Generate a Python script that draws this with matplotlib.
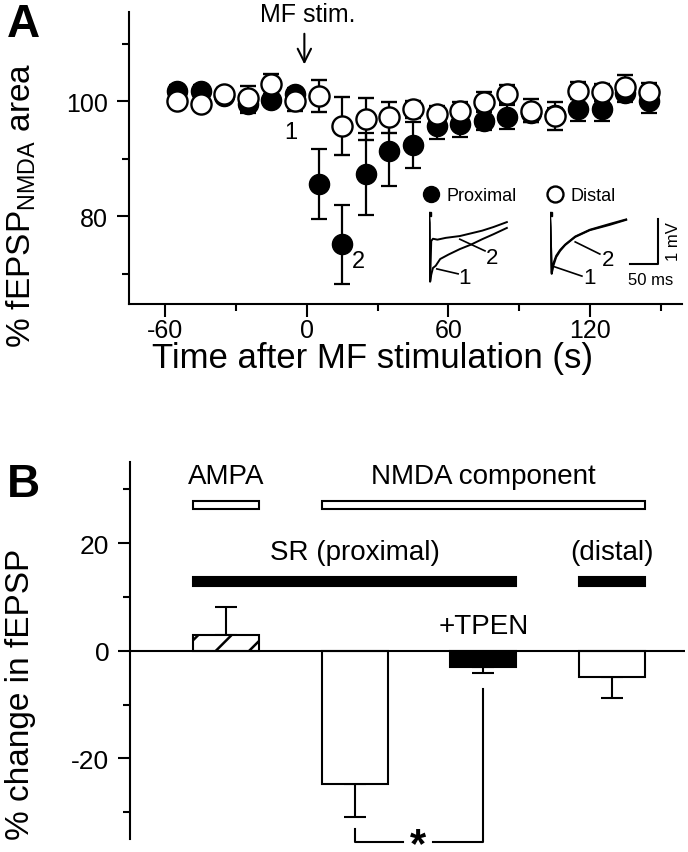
import numpy as np
import matplotlib
matplotlib.use('Agg')
import matplotlib.pyplot as plt
from matplotlib.lines import Line2D

plt.rcParams['font.family'] = ['Liberation Sans', 'DejaVu Sans']
plt.rcParams['mathtext.fontset'] = 'custom'
plt.rcParams['mathtext.rm'] = 'Liberation Sans'
plt.rcParams['mathtext.it'] = 'Liberation Sans:italic'
plt.rcParams['axes.unicode_minus'] = False
plt.rcParams['hatch.linewidth'] = 1.8

# ---- Panel A: time course (s) vs % fEPSP NMDA area ----
time_s = [-55, -45, -35, -25, -15, -5, 5, 15, 25, 35, 45, 55, 65, 75, 85, 95, 105, 115, 125, 135, 145]
proximal = [101.8, 101.8, 100.8, 99.5, 100.2, 101.3, 85.6, 75.1, 87.3, 91.4, 92.3, 95.7, 96.0, 96.6,
            97.2, 97.9, 97.6, 98.6, 98.7, 101.4, 100.0]
proximal_err = [1.0, 1.0, 1.0, 1.5, 1.0, 1.0, 6.1, 6.9, 7.1, 6.1, 4.0, 2.3, 2.3, 1.6, 2.1, 1.5, 1.2,
                2.0, 2.1, 1.5, 2.0]
distal = [100.1, 99.5, 101.2, 100.5, 103.0, 100.1, 100.9, 95.7, 96.9, 97.2, 98.6, 97.7, 98.3, 99.8,
          101.2, 98.3, 97.4, 101.8, 101.5, 102.4, 101.5]
distal_err = [1.0, 1.0, 1.0, 2.2, 1.7, 1.8, 2.8, 5.0, 3.7, 2.7, 1.5, 1.5, 1.5, 1.7, 1.6, 2.0, 2.4,
              1.5, 1.5, 2.1, 1.7]

# example traces (ms, mV)
prox_t1 = [0, 1, 2, 4, 7, 12, 20, 35, 55, 75, 95, 115, 139]
prox_v1 = [0, -0.2, -1.5, -1.35, -1.2, -1.15, -1.0, -0.9, -0.78, -0.68, -0.56, -0.45, -0.31]
prox_t2 = [0, 1, 2, 4, 7, 15, 30, 55, 75, 95, 115, 139]
prox_v2 = [0, -0.2, -1.5, -0.6, -0.55, -0.57, -0.53, -0.49, -0.43, -0.37, -0.29, -0.18]
dist_t = [0, 1, 3, 6, 11, 18, 27, 45, 71, 107, 136]
dist_v1 = [0, -0.3, -1.33, -1.15, -0.96, -0.82, -0.69, -0.51, -0.36, -0.24, -0.13]
dist_v2 = [0, -0.3, -1.3, -1.1, -0.93, -0.8, -0.68, -0.5, -0.35, -0.22, -0.12]

# ---- Panel B: % change in fEPSP ----
b_groups = ['AMPA', 'NMDA proximal', 'NMDA proximal +TPEN', 'NMDA distal']
b_change = [3.0, -24.8, -3.0, -4.8]
b_err = [5.2, 6.2, 1.1, 4.0]
b_face = ['white', 'white', 'black', 'white']
b_hatch = ['/', '', '', '']

fig = plt.figure(figsize=(6.88, 8.53), dpi=100)
W, H = 688, 853

def rect(x0, y0, x1, y1):
    return [x0 / W, 1 - y1 / H, (x1 - x0) / W, (y1 - y0) / H]

# ================= Panel A =================
axA = fig.add_axes(rect(129, 13, 682, 305))
axA.errorbar(time_s, proximal, yerr=proximal_err, fmt='o', color='black', ms=14.5,
             capsize=6, elinewidth=1.6, capthick=1.6, zorder=2)
axA.errorbar(time_s, distal, yerr=distal_err, fmt='o', mfc='white', mec='black', mew=1.7,
             ecolor='black', ms=14.5, capsize=6, elinewidth=1.6, capthick=1.6, zorder=3)
axA.set_xlim(-75.3, 159)
axA.set_ylim(64.7, 115.5)
axA.set_xticks([-60, 0, 60, 120])
axA.set_xticks([-30, 30, 90, 150], minor=True)
axA.set_yticks([80, 100])
axA.set_yticks([70, 90, 110], minor=True)
for s in ['top', 'right']:
    axA.spines[s].set_visible(False)
for s in ['left', 'bottom']:
    axA.spines[s].set_linewidth(1.5)
axA.tick_params(which='major', length=9, width=1.5, labelsize=18, pad=6)
axA.tick_params(axis='x', which='major', pad=1)
axA.tick_params(which='minor', length=5, width=1.5)
axA.set_xlabel('Time after MF stimulation (s)', fontsize=25)
axA.xaxis.set_label_coords(0.44, -0.128)
axA.set_ylabel('% fEPSP$_{\\mathrm{NMDA}}$ area', fontsize=24)
axA.yaxis.set_label_coords(-0.165, 0.34)

axA.annotate('', xy=(-1, 105.9), xytext=(-1, 112.2),
             arrowprops=dict(arrowstyle='->', lw=1.5, color='black', mutation_scale=24))
axA.text(0.5, 115.2, 'MF stim.', fontsize=18, ha='center', va='center', clip_on=False)
axA.text(-6.8, 94.6, '1', fontsize=17, ha='center', va='center')
axA.text(21.7, 72.2, '2', fontsize=17, ha='center', va='center')

handles = [Line2D([], [], ls='none', marker='o', color='black', ms=11.5),
           Line2D([], [], ls='none', marker='o', mfc='white', mec='black', mew=1.7, ms=11.5)]
axA.legend(handles, ['Proximal', 'Distal'], loc='center left', bbox_to_anchor=(0.533, 0.37),
           frameon=False, ncol=2, fontsize=13, handlelength=0.8, handletextpad=0.45,
           columnspacing=1.75, borderpad=0, borderaxespad=0)

# inset traces
def trace_axes(left_px, span_ms):
    ax = fig.add_axes([left_px / W, 1 - 287 / H, span_ms * 0.56 / W, 76.5 / H])
    ax.set_xlim(0, span_ms)
    ax.set_ylim(-1.6, 0.1)
    ax.axis('off')
    ax.patch.set_visible(False)
    return ax

axP = trace_axes(429, 150)
axP.plot(prox_t1, prox_v1, color='black', lw=1.4)
axP.plot(prox_t2, prox_v2, color='black', lw=1.4)
axP.plot([0], [0], 's', color='black', ms=3)
axP.plot([55, 100], [-0.56, -0.82], color='black', lw=1.2)
axP.text(112, -0.96, '2', fontsize=16, ha='center', va='center')
axP.plot([14, 52], [-1.22, -1.33], color='black', lw=1.2)
axP.text(64, -1.4, '1', fontsize=16, ha='center', va='center', clip_on=False)

axD = trace_axes(550, 200)
axD.plot(dist_t, dist_v1, color='black', lw=1.4)
axD.plot(dist_t, dist_v2, color='black', lw=1.4)
axD.plot([0], [0], 's', color='black', ms=3)
axD.plot([45, 89], [-0.62, -0.89], color='black', lw=1.2)
axD.text(104, -1.0, '2', fontsize=16, ha='center', va='center')
axD.plot([5, 57], [-1.16, -1.38], color='black', lw=1.2)
axD.text(71, -1.4, '1', fontsize=16, ha='center', va='center', clip_on=False)
# scale bar: 50 ms, 1 mV
axD.plot([143, 193, 193], [-1.11, -1.11, -0.11], color='black', lw=1.5, clip_on=False)
axD.text(220, -0.6, '1 mV', fontsize=12, rotation=90, ha='center', va='center', clip_on=False)
axD.text(179, -1.45, '50 ms', fontsize=12, ha='center', va='center', clip_on=False)

fig.text(7 / W, 1 - 37 / H, 'A', fontsize=33, weight='bold', va='baseline')

# ================= Panel B =================
axB = fig.add_axes(rect(130, 463, 685, 840))
xpos = np.arange(1, len(b_change) + 1)
bw = 0.513
vals = np.array(b_change)
errs = np.array(b_err)
lower = np.where(vals < 0, errs, 0)
upper = np.where(vals >= 0, errs, 0)
axB.bar(xpos, vals, width=bw, color=b_face, edgecolor='black', linewidth=1.5,
        hatch=b_hatch, zorder=2)
axB.errorbar(xpos, vals, yerr=[lower, upper], fmt='none', ecolor='black', elinewidth=1.5,
             capsize=8, capthick=1.5, zorder=1)
axB.axhline(0, color='black', lw=1.5, zorder=3)
axB.set_xlim(0.254, 4.567)
axB.set_ylim(-35.0, 35.1)
axB.set_xticks([])
axB.set_yticks([-20, 0, 20])
axB.set_yticks([-30, -10, 10, 30], minor=True)
for s in ['top', 'right', 'bottom']:
    axB.spines[s].set_visible(False)
axB.spines['left'].set_linewidth(1.5)
axB.tick_params(which='major', length=9, width=1.5, labelsize=19, pad=6)
axB.tick_params(which='minor', length=5, width=1.5)
axB.set_ylabel('% change in fEPSP', fontsize=24)
axB.yaxis.set_label_coords(-0.17, 0.385)

# group indicator strips: (label, first bar, last bar, fill, bottom, height, text y)
strips = [('AMPA', 0, 0, 'white', 26.3, 1.6, 32.5),
          ('NMDA component', 1, 3, 'white', 26.3, 1.6, 32.5),
          ('SR (proximal)', 0, 2, 'black', 12.0, 1.8, 18.4),
          ('(distal)', 3, 3, 'black', 12.0, 1.8, 18.4)]
for label, i0, i1, fc, bot, hgt, ty in strips:
    left = xpos[i0] - bw / 2
    right = xpos[i1] + bw / 2
    axB.bar(left, hgt, width=right - left, bottom=bot, align='edge', color=fc,
            edgecolor='black', linewidth=1.5)
    axB.text((left + right) / 2, ty, label, fontsize=20, ha='center', va='center')
axB.text(xpos[2], 4.6, '+TPEN', fontsize=20, ha='center', va='center')

# significance bracket between bars 2 and 3
axB.plot([2, 2, 2.373], [-33.2, -35.6, -35.6], color='black', lw=1.5, clip_on=False)
axB.plot([2.606, 3, 3], [-35.6, -35.6, -7.1], color='black', lw=1.5, clip_on=False)
axB.text(2.49, -36.1, '*', fontsize=30, weight='bold', ha='center', va='center', clip_on=False)

fig.text(7 / W, 1 - 497 / H, 'B', fontsize=33, weight='bold', va='baseline')

fig.savefig('out.png', dpi=100)
